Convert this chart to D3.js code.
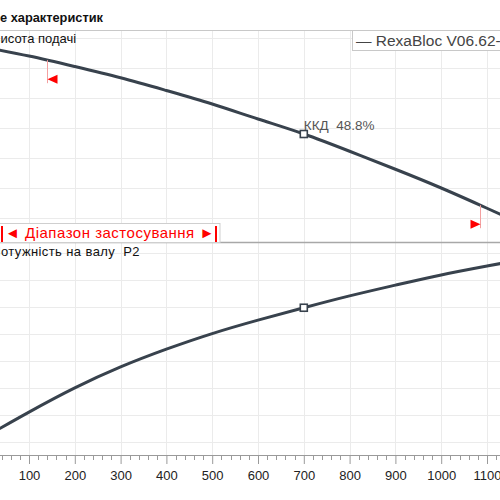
<!DOCTYPE html>
<html><head><meta charset="utf-8">
<script src="https://cdn.jsdelivr.net/npm/d3@7"></script>
<style>html,body{margin:0;padding:0;background:#fff;}svg{display:block;font-family:"Liberation Sans",Arial,sans-serif;}text{white-space:pre;}</style>
</head><body>
<script>
// ---- data ----
const flow  = [0, 100, 200, 300, 400, 500, 600, 700, 800, 900, 1000, 1100, 1150];
const head  = [17.4, 16.8, 16.1, 15.35, 14.5, 13.6, 12.6, 11.6, 10.45, 9.25, 8.0, 6.65, 5.95];
const power = [10.7, 15.5, 20.0, 23.9, 27.2, 30.1, 32.6, 34.9, 37.1, 39.1, 41.0, 42.65, 43.45];
const xTicks = [0, 100, 200, 300, 400, 500, 600, 700, 800, 900, 1000, 1100, 1200];
const xLabelTicks = [100, 200, 300, 400, 500, 600, 700, 800, 900, 1000, 1100];
const headTicks = [6, 8, 10, 12, 14, 16, 18];
const powerTicks = [10, 15, 20, 25, 30, 35, 40, 45];
const dutyFlow = 700;
const rangeLimits = [140, 1085];
const titleText = "Поле характеристик";
const headLabel = "Висота подачі";
const powerLabel = "Потужність на валу  P2";
const legendText = "— RexaBloc V06.62-1000";
const effLabel = "ККД  48.8%";
const rangeText = "◄ Діапазон застосування ►";

const W = 500, H = 500;
const svg = d3.select("body").append("svg").attr("width", W).attr("height", H);

const x = d3.scaleLinear().domain([100, 1100]).range([29, 487]);
const yH = d3.scaleLinear().domain([6, 18]).range([218, 38]);
const yP = d3.scaleLinear().domain([10, 45]).range([441.7, 253.4]);

const topY0 = 30, sepY = 242, axisY = 455;

svg.append("defs").append("clipPath").attr("id", "plotclip")
  .append("rect").attr("x", 0).attr("y", topY0).attr("width", W).attr("height", axisY - topY0);

const grid = svg.append("g").attr("stroke", "#ebebeb").attr("stroke-width", 1);
grid.selectAll("line.v").data(xTicks).join("line")
  .attr("x1", d => Math.round(x(d)) + 0.5).attr("x2", d => Math.round(x(d)) + 0.5)
  .attr("y1", topY0).attr("y2", axisY);
grid.selectAll("line.h").data(headTicks).join("line")
  .attr("x1", 0).attr("x2", W).attr("y1", d => Math.round(yH(d)) + 0.5).attr("y2", d => Math.round(yH(d)) + 0.5);
grid.selectAll("line.p").data(powerTicks).join("line")
  .attr("x1", 0).attr("x2", W).attr("y1", d => Math.round(yP(d)) + 0.5).attr("y2", d => Math.round(yP(d)) + 0.5);

// frame lines
svg.append("line").attr("x1", 0).attr("x2", W).attr("y1", topY0 + 0.5).attr("y2", topY0 + 0.5).attr("stroke", "#c8c8c8");
svg.append("line").attr("x1", 0).attr("x2", W).attr("y1", sepY + 0.5).attr("y2", sepY + 0.5).attr("stroke", "#a8a8a8").attr("stroke-width", 1.5);

// x axis
const axis = d3.axisBottom(x).tickValues(xTicks).tickSize(9).tickPadding(7)
  .tickFormat(d => xLabelTicks.includes(d) ? d3.format("d")(d) : "");
const ax = svg.append("g").attr("transform", `translate(0,${axisY})`).call(axis);
ax.select(".domain").attr("stroke", "#9a9a9a").attr("d", `M0,0.5H${W}`);
ax.selectAll(".tick line").attr("stroke", "#9a9a9a");
ax.selectAll(".tick").filter(d => !xLabelTicks.includes(d)).select("text").remove();
ax.selectAll(".tick text").attr("fill", "#222").attr("font-size", 13).attr("font-family", "Liberation Sans, Arial, sans-serif");
const minor = d3.range(0, 1200, 20).filter(v => v % 100 !== 0);
svg.append("g").selectAll("line").data(minor).join("line")
  .attr("x1", d => Math.round(x(d)) + 0.5).attr("x2", d => Math.round(x(d)) + 0.5)
  .attr("y1", axisY).attr("y2", axisY + 5).attr("stroke", "#9a9a9a");

// curves
const pts = flow.map((q, i) => ({q, h: head[i], p: power[i]}));
const plot = svg.append("g").attr("clip-path", "url(#plotclip)");
const lineH = d3.line().x(d => x(d.q)).y(d => yH(d.h)).curve(d3.curveNatural);
const lineP = d3.line().x(d => x(d.q)).y(d => yP(d.p)).curve(d3.curveNatural);
plot.append("path").datum(pts).attr("d", lineH).attr("fill", "none").attr("stroke", "#38424d").attr("stroke-width", 3);
plot.append("path").datum(pts).attr("d", lineP).attr("fill", "none").attr("stroke", "#38424d").attr("stroke-width", 3);

const interp = (arr, q) => {
  const i = d3.bisectRight(flow, q) - 1;
  const t = (q - flow[i]) / (flow[i + 1] - flow[i]);
  return arr[i] + t * (arr[i + 1] - arr[i]);
};

// duty markers
const hDuty = interp(head, dutyFlow), pDuty = interp(power, dutyFlow);
[[x(dutyFlow), yH(hDuty)], [x(dutyFlow), yP(pDuty)]].forEach(([cx, cy]) => {
  svg.append("rect").attr("x", cx - 3.5).attr("y", cy - 3.5).attr("width", 7).attr("height", 7)
    .attr("fill", "#fff").attr("stroke", "#38424d").attr("stroke-width", 1.6);
});
svg.append("text").attr("x", x(dutyFlow)).attr("y", yH(hDuty) - 4)
  .attr("font-size", 13.5).attr("fill", "#555").text(effLabel);

// application range markers
rangeLimits.forEach((q, i) => {
  const lx = Math.round(x(q)) + 0.5;
  const cy = yH(interp(head, q));
  svg.append("line").attr("x1", lx).attr("x2", lx).attr("y1", cy).attr("y2", cy + 23)
    .attr("stroke", "#f4a0a0").attr("stroke-width", 1);
  const ty = cy + 19;
  const tri = i === 0
    ? `M${lx},${ty} L${lx + 10},${ty - 4.5} L${lx + 10},${ty + 4.5} Z`
    : `M${lx},${ty} L${lx - 10},${ty - 4.5} L${lx - 10},${ty + 4.5} Z`;
  svg.append("path").attr("d", tri).attr("fill", "#ff0000");
});

// range legend box
svg.append("rect").attr("x", -1).attr("y", 223.5).attr("width", 221).attr("height", 19)
  .attr("fill", "#fff").attr("stroke", "#cfcfcf");
svg.append("rect").attr("x", 1).attr("y", 226).attr("width", 2).attr("height", 16).attr("fill", "#ff0000");
svg.append("rect").attr("x", 215).attr("y", 226).attr("width", 2).attr("height", 16).attr("fill", "#ff0000");
svg.append("text").attr("x", 5).attr("y", 238).attr("font-size", 15).attr("letter-spacing", 0.5)
  .attr("fill", "#ff0000").text(rangeText);

// legend
svg.append("rect").attr("x", 352.5).attr("y", 30.5).attr("width", 160).attr("height", 20)
  .attr("fill", "#fff").attr("stroke", "#c8c8c8");
svg.append("text").attr("x", 356).attr("y", 46).attr("font-size", 15.5).attr("fill", "#444").text(legendText);

// panel labels (left-clipped like the original)
function clippedText(str, cut, y, size, weight, visibleStart, spacing) {
  const t = svg.append("text").attr("x", 0).attr("y", y).attr("font-size", size)
    .attr("font-weight", weight).attr("letter-spacing", spacing).attr("fill", "#111").text(str);
  const off = t.node().getSubStringLength(0, cut);
  t.attr("x", visibleStart - off);
}
clippedText(titleText, 3, 22, 12.8, "bold", 0, 0);
clippedText(headLabel, 1, 43, 13, "normal", 0.5, 0);
clippedText(powerLabel, 1, 256, 13, "normal", 1, 0.4);
</script>
</body></html>
